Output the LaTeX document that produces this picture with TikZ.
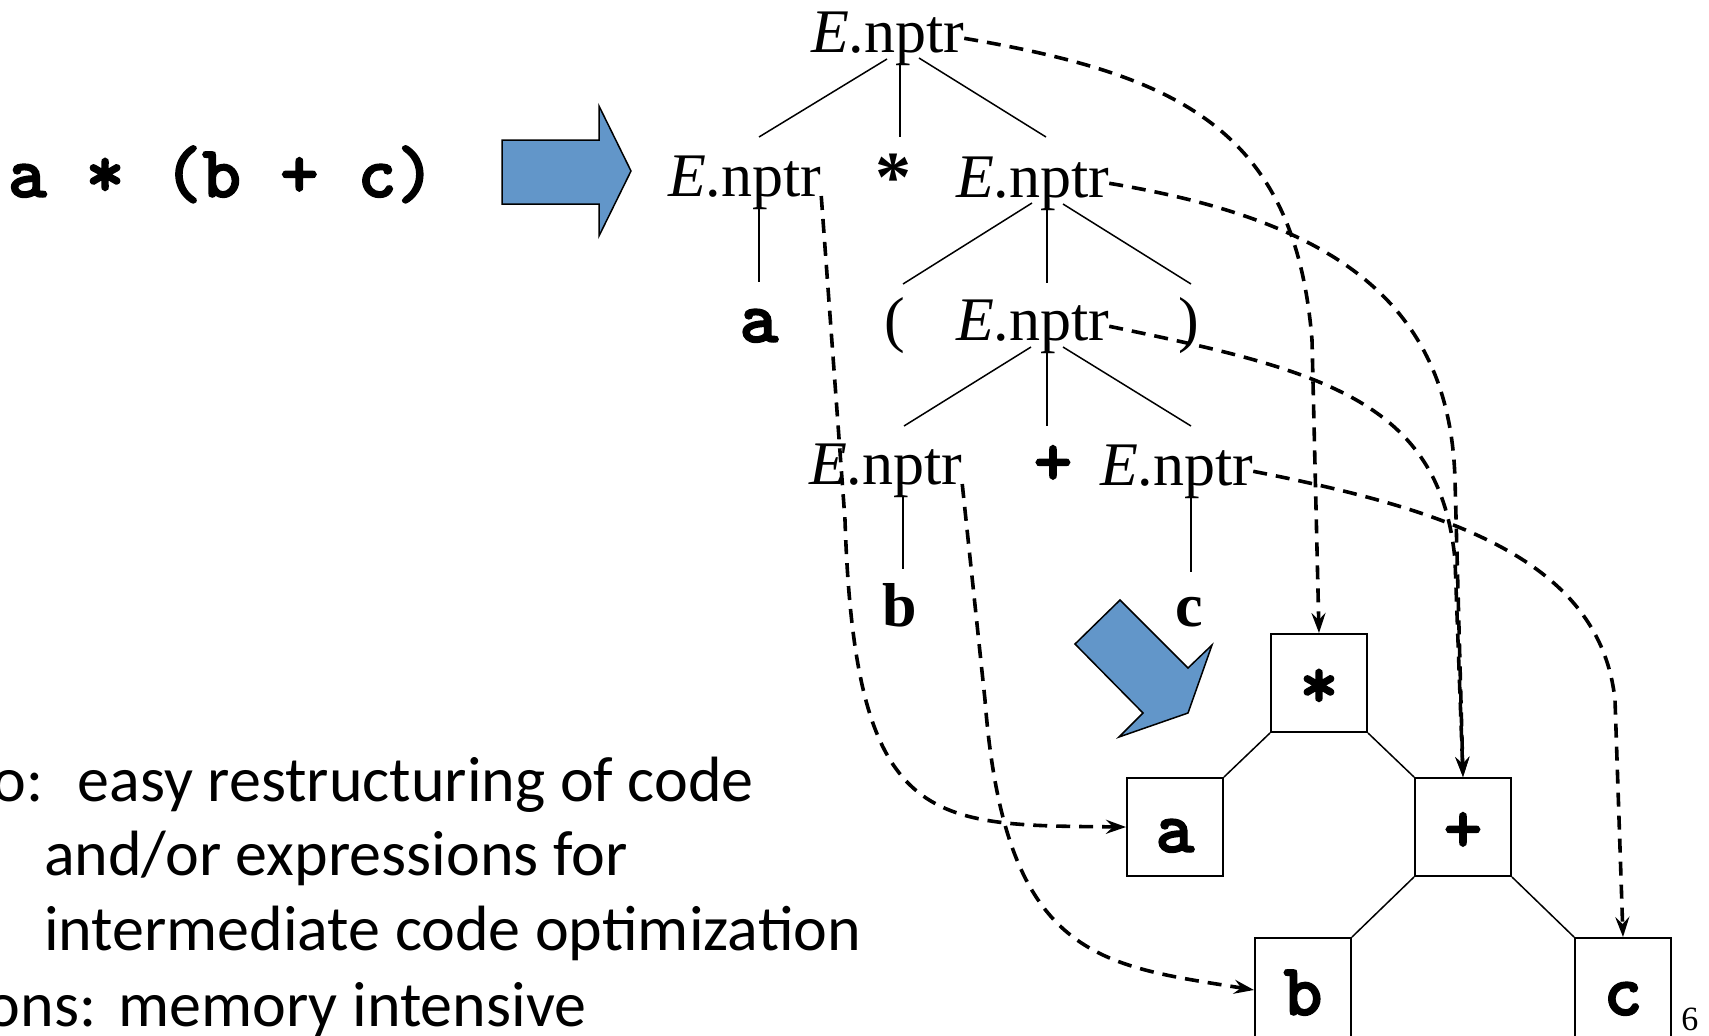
\documentclass[tikz,border=0pt]{standalone}
\usepackage{fontspec}
\setmainfont{Liberation Serif}
\newfontfamily\CalFam{Carlito}
\newfontfamily\CodeFam{lmmonolt10-bold.otf}[FakeBold=2]
\usetikzlibrary{arrows.meta}
\definecolor{arrowblue}{RGB}{98,150,201}
\newcommand{\TreeFont}{\fontsize{31}{36}\selectfont}
\newcommand{\CodeFont}{\CodeFam\fontsize{37}{40}\selectfont}
\newcommand{\BodyFont}{\CalFam\fontsize{32}{38}\selectfont}
\newcommand{\Enp}{\textit{E}.nptr}
\begin{document}
\begin{tikzpicture}[x=0.5pt,y=-0.5pt,
  lbl/.style={inner sep=0pt, outer sep=0pt, font=\TreeFont},
  blbl/.style={inner sep=0pt, outer sep=0pt, font={\TreeFont\bfseries}},
  code/.style={inner sep=0pt, outer sep=0pt, font=\CodeFont},
  tree/.style={line width=0.75pt},
  ptr/.style={line width=1.8pt, dash pattern=on 7pt off 4.5pt,
    -{Stealth[length=10pt,width=7pt,inset=3.5pt]}},
  astbox/.style={draw, line width=1pt, minimum width=48pt, minimum height=49pt,
    inner sep=0pt, font=\CodeFont, text height=31pt, text depth=6pt},
  blockarrow/.style={fill=arrowblue, draw=black, line width=0.75pt},
  body/.style={inner sep=0pt, outer sep=0pt, anchor=base west, font=\BodyFont}]
\useasboundingbox (0,0) rectangle (1709,1035);

% input expression and block arrow
\node[code, anchor=base west] (expr) at (8,197) {a * (b + c)};
\draw[blockarrow] (502,140) -- (599,140) -- (599,106) -- (631,171) -- (599,236)
  -- (599,204) -- (502,204) -- cycle;

% parse tree
\node[lbl, anchor=base west] (r0) at (811,52) {\Enp};
\node[lbl, anchor=base west] (l2a) at (668,196) {\Enp};
\node[blbl, anchor=base, font={\fontsize{36}{40}\selectfont\bfseries}] (star2) at (893,201) {*};
\node[lbl, anchor=base west] (l2b) at (956,197) {\Enp};
\node[code, anchor=base] (a3) at (759,342) {a};
\node[lbl, anchor=base west] (lp3) at (884,340) {(};
\node[lbl, anchor=base west] (l3) at (956,340) {\Enp};
\node[lbl, anchor=base west] (rp3) at (1178,340) {)};
\node[lbl, anchor=base west] (l4a) at (809,484) {\Enp};
\node[code, anchor=base] (plus4) at (1053,485) {+};
\node[lbl, anchor=base west] (l4b) at (1100,485) {\Enp};
\node[blbl, anchor=base] (b5) at (900,626) {b};
\node[blbl, anchor=base] (c5) at (1189,626) {c};

% tree edge end points
\coordinate (r0L) at (887,59);   \coordinate (l2aT) at (759,137);
\coordinate (r0C) at (900,63);   \coordinate (st2T) at (900,137);
\coordinate (r0R) at (919,58);   \coordinate (l2bT) at (1046,137);
\coordinate (l2aB) at (759,208); \coordinate (a3T) at (759,282);
\coordinate (l2bL) at (1032,203); \coordinate (lp3T) at (903,284);
\coordinate (l2bC) at (1047,203); \coordinate (l3T) at (1047,283);
\coordinate (l2bR) at (1063,204); \coordinate (rp3T) at (1191,284);
\coordinate (l3L) at (1031,347); \coordinate (l4aT) at (904,426);
\coordinate (l3C) at (1047,348); \coordinate (pl4T) at (1047,426);
\coordinate (l3R) at (1063,347); \coordinate (l4bT) at (1191,426);
\coordinate (l4aB) at (903,497); \coordinate (b5T) at (903,569);
\coordinate (l4bB) at (1191,498); \coordinate (c5T) at (1191,572);

\draw[tree] (r0L) -- (l2aT);
\draw[tree] (r0C) -- (st2T);
\draw[tree] (r0R) -- (l2bT);
\draw[tree] (l2aB) -- (a3T);
\draw[tree] (l2bL) -- (lp3T);
\draw[tree] (l2bC) -- (l3T);
\draw[tree] (l2bR) -- (rp3T);
\draw[tree] (l3L) -- (l4aT);
\draw[tree] (l3C) -- (pl4T);
\draw[tree] (l3R) -- (l4bT);
\draw[tree] (l4aB) -- (b5T);
\draw[tree] (l4bB) -- (c5T);

% second block arrow
\draw[blockarrow] (1120,600) -- (1075,644) -- (1143,713) -- (1119,737) -- (1188,713)
  -- (1212,645) -- (1188,668) -- cycle;

% syntax tree boxes
\node[astbox] (bstar) at (1319,683) {*};
\node[astbox] (ba) at (1175,827) {a};
\node[astbox] (bplus) at (1463,827) {+};
\node[astbox, minimum height=52pt] (bb) at (1303,990) {b};
\node[astbox, minimum height=52pt] (bc) at (1623,990) {c};
\draw[tree] (bstar.south west) -- (ba.north east);
\draw[tree] (bstar.south east) -- (bplus.north west);
\draw[tree] (bplus.south west) -- (bb.north east);
\draw[tree] (bplus.south east) -- (bc.north west);

% pointers
\draw[ptr] (r0.east) .. controls (1180,75) and (1295,130) .. (1312,340) -- (bstar.north);
\draw[ptr] (l2b.east) .. controls (1330,220) and (1450,300) .. (1455,480) -- (bplus.north);
\draw[ptr] (l3.east) .. controls (1320,370) and (1440,400) .. (1455,560) -- (bplus.north);
\draw[ptr] (l4b.east) .. controls (1450,510) and (1600,560) .. (1615,700) -- (bc.north);
\draw[ptr] (l2a.base east) -- (845,520) .. controls (855,830) and (930,825) .. (ba.west);
\draw[ptr] (l4a.base east) -- (985,700) .. controls (1005,960) and (1100,965) .. (bb.west);

% text
\node[body] (t1) at (-7,801) {o:\hspace{17pt}easy restructuring of code};
\node[body] (t2) at (44,875) {and/or expressions for};
\node[body] (t3) at (44,950) {intermediate code optimization};
\node[body] (t4) at (-13,1026) {ons:\hspace{11pt}memory intensive};
\node[inner sep=0pt, anchor=base west, font=\fontsize{17}{20}\selectfont] (pg) at (1681,1030) {6};
\end{tikzpicture}
\end{document}
